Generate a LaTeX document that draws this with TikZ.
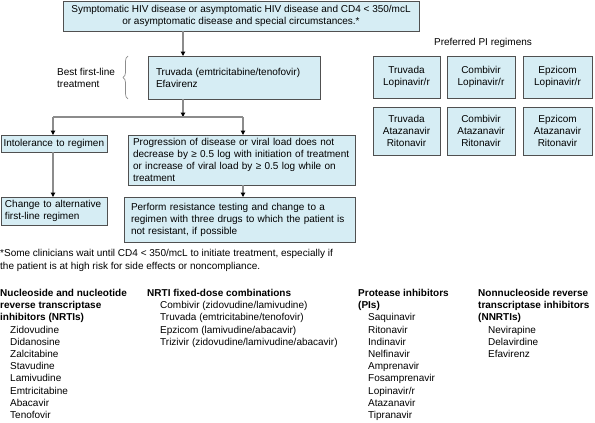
\documentclass[tikz,border=0pt]{standalone}
\usepackage{fontspec}
\setmainfont{Liberation Sans}
\usetikzlibrary{arrows.meta,decorations.pathreplacing}
\definecolor{boxfill}{RGB}{214,237,244}
\definecolor{boxdraw}{RGB}{80,80,80}
\definecolor{linegray}{RGB}{140,140,140}
\newcommand\fsz{\fontsize{10}{12}\selectfont}
\newcommand\lsz{\fontsize{10}{12.2}\selectfont}
\begin{document}
\begin{tikzpicture}[x=1pt,y=-1pt,
  flowbox/.style={draw=boxdraw, fill=boxfill, line width=0.8pt, anchor=north west,
    inner ysep=2pt, outer sep=0pt, font=\fsz, align=left},
  pibox/.style={draw=boxdraw, fill=boxfill, line width=0.8pt, anchor=north west,
    inner sep=1pt, outer sep=0pt, font=\fsz, align=center},
  conn/.style={draw=linegray, line width=1.3pt},
  arr/.style={conn, -{Triangle[black,length=4.5pt,width=4.5pt]}},
  listtext/.style={anchor=north west, inner sep=0pt, align=left, font=\lsz},
  plain/.style={inner sep=0pt, font=\fsz, align=left}
]
\useasboundingbox (0,0) rectangle (595,423);

% flow boxes
\node[flowbox, align=center, inner xsep=2pt, minimum width=356pt, minimum height=30pt] (top) at (63,1)
  {Symptomatic HIV disease or asymptomatic HIV disease and CD4 < 350/mcL\\ or asymptomatic disease and special circumstances.*};
\node[flowbox, inner xsep=8pt, text width=156pt, minimum height=43pt] (trv) at (148,56)
  {Truvada (emtricitabine/tenofovir)\\ Efavirenz};
\node[flowbox, inner xsep=2.5pt, text width=101pt, minimum height=17pt] (intol) at (1,135)
  {Intolerance to regimen};
\node[flowbox, inner xsep=4pt, text width=98pt, minimum height=28pt] (chg) at (1,197)
  {Change to alternative\\ first-line regimen};
\node[flowbox, inner xsep=5pt, text width=217pt, minimum height=50pt] (prog) at (128,135)
  {Progression of disease or viral load does not\\ decrease by ≥ 0.5 log with initiation of treatment\\ or increase of viral load by ≥ 0.5 log while on\\ treatment};
\node[flowbox, inner xsep=7pt, text width=217pt, minimum height=45pt] (perf) at (124,197)
  {Perform resistance testing and change to a\\ regimen with three drugs to which the patient is\\ not resistant, if possible};

% brace and label
\draw[linegray, line width=0.7pt, decorate, decoration={brace, amplitude=5pt}] (128,99) -- (128,56);
\node[plain, anchor=north west] (best) at (57,68) {Best first-line\\ treatment};

% connectors
\coordinate (split) at (183,117);
\coordinate (jl) at (53,117);
\coordinate (jr) at (243,117);
\draw[arr] (top.south -| split) -- (trv.north -| split);
\draw[arr] (trv.south -| split) -- (split);
\draw[conn] (jl) -- (jr);
\draw[arr] (jl) -- (intol.north -| jl);
\draw[arr] (jr) -- (prog.north -| jr);
\draw[arr] (intol.south -| jl) -- (chg.north -| jl);
\draw[arr] (prog.south -| jr) -- (perf.north -| jr);

% preferred PI regimens
\node[plain, align=center] (pihead) at (483,43) {Preferred PI regimens};
\node[pibox, minimum width=67pt, minimum height=42pt] (p11) at (373,56) {Truvada\\ Lopinavir/r};
\node[pibox, minimum width=68pt, minimum height=42pt] (p12) at (447,56) {Combivir\\ Lopinavir/r};
\node[pibox, minimum width=69pt, minimum height=42pt] (p13) at (523,56) {Epzicom\\ Lopinavir/r};
\node[pibox, minimum width=67pt, minimum height=48pt] (p21) at (373,107) {Truvada\\ Atazanavir\\ Ritonavir};
\node[pibox, minimum width=68pt, minimum height=48pt] (p22) at (447,107) {Combivir\\ Atazanavir\\ Ritonavir};
\node[pibox, minimum width=69pt, minimum height=48pt] (p23) at (523,107) {Epzicom\\ Atazanavir\\ Ritonavir};

% footnote
\node[listtext, font=\fontsize{10}{13}\selectfont] (foot) at (0,249)
  {*Some clinicians wait until CD4 < 350/mcL to initiate treatment, especially if\\ the patient is at high risk for side effects or noncompliance.};

% drug lists
\node[listtext] (c1) at (0,289)
  {\textbf{Nucleoside and nucleotide}\\ \textbf{reverse transcriptase}\\ \textbf{inhibitors (NRTIs)}\\
   \hspace*{10pt}Zidovudine\\ \hspace*{10pt}Didanosine\\ \hspace*{10pt}Zalcitabine\\ \hspace*{10pt}Stavudine\\
   \hspace*{10pt}Lamivudine\\ \hspace*{10pt}Emtricitabine\\ \hspace*{10pt}Abacavir\\ \hspace*{10pt}Tenofovir};
\node[listtext] (c2) at (147,289)
  {\textbf{NRTI fixed-dose combinations}\\ \hspace*{13pt}Combivir (zidovudine/lamivudine)\\
   \hspace*{13pt}Truvada (emtricitabine/tenofovir)\\ \hspace*{13pt}Epzicom (lamivudine/abacavir)\\
   \hspace*{13pt}Trizivir (zidovudine/lamivudine/abacavir)};
\node[listtext] (c3) at (358,289)
  {\textbf{Protease inhibitors}\\ \textbf{(PIs)}\\ \hspace*{10pt}Saquinavir\\ \hspace*{10pt}Ritonavir\\
   \hspace*{10pt}Indinavir\\ \hspace*{10pt}Nelfinavir\\ \hspace*{10pt}Amprenavir\\ \hspace*{10pt}Fosamprenavir\\
   \hspace*{10pt}Lopinavir/r\\ \hspace*{10pt}Atazanavir\\ \hspace*{10pt}Tipranavir};
\node[listtext] (c4) at (478,289)
  {\textbf{Nonnucleoside reverse}\\ \textbf{transcriptase inhibitors}\\ \textbf{(NNRTIs)}\\
   \hspace*{10pt}Nevirapine\\ \hspace*{10pt}Delavirdine\\ \hspace*{10pt}Efavirenz};
\end{tikzpicture}
\end{document}
